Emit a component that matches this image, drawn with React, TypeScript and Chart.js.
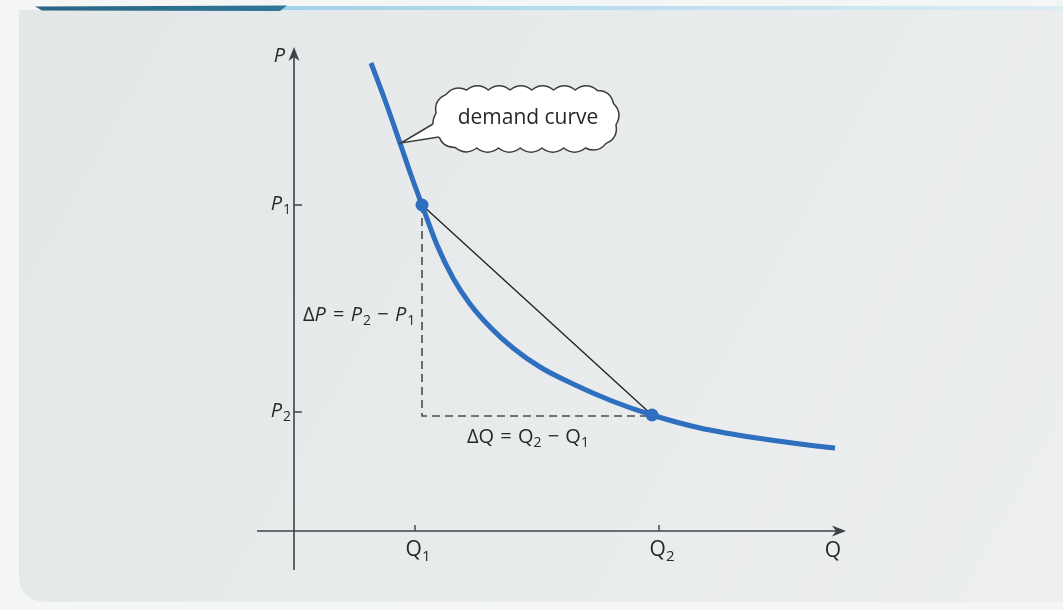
import React, { useEffect, useRef } from "react";
import { Chart, registerables } from "chart.js";

Chart.register(...registerables);

// ---- data (chart units) ----
const CURVE_Q = [1.54, 1.84, 2.12, 2.34, 2.56, 2.86, 3.18, 3.52, 3.92, 4.38, 4.92, 5.58, 6.36, 7.16, 8.12, 9.12, 10.12, 10.82];
const CURVE_P = [9.36, 8.56, 7.76, 7.12, 6.52, 5.72, 5.06, 4.54, 4.08, 3.66, 3.28, 2.94, 2.6, 2.32, 2.06, 1.88, 1.74, 1.66];
const POINT_Q = [2.56, 7.16];
const POINT_P = [6.52, 2.32];
const GUIDE_Q = [2.56, 2.56, 7.16];
const GUIDE_P = [6.52, 2.3, 2.3];
const Q_TICKS = [2.42, 7.3];
const Q_TICK_LABELS = ["Q_1", "Q_2"];
const P_TICKS = [6.52, 2.38];
const P_TICK_LABELS = ["P_1", "P_2"];
const X_AXIS_RANGE = [-0.74, 11.04];
const Y_AXIS_RANGE = [-0.78, 9.68];
const X_AXIS_LABEL = "Q";
const Y_AXIS_LABEL = "P";
const DELTA_P_LABEL = "ΔP = P_2 − P_1";
const DELTA_Q_LABEL = "ΔQ = Q_2 − Q_1";
const CALLOUT_TEXT = "demand curve";

const BLUE = "#2f6fbf";
const INK = "#262929";
const AXIS = "#3b4545";
const FONT = "'Open Sans', 'DejaVu Sans', sans-serif";

function drawRich(ctx: CanvasRenderingContext2D, s: string, x: number, y: number, align: string, size: number) {
  const segs: { t: string; sub: boolean }[] = [];
  for (let i = 0; i < s.length; i++) {
    if (s[i] === "_") {
      segs.push({ t: s[i + 1], sub: true });
      i++;
    } else segs.push({ t: s[i], sub: false });
  }
  const fontFor = (seg: { t: string; sub: boolean }) => {
    const it = seg.t === "P" ? "italic " : "";
    const sz = seg.sub ? Math.round(size * 0.7) : size;
    return `${it}${sz}px ${FONT}`;
  };
  let total = 0;
  const widths = segs.map((seg) => {
    ctx.font = fontFor(seg);
    const w = ctx.measureText(seg.t).width + (seg.t === "P" ? 1 : 0) + (seg.t === " " ? 1 : 0);
    total += w;
    return w;
  });
  let cx = align === "center" ? x - total / 2 : align === "right" ? x - total : x;
  ctx.textBaseline = "middle";
  ctx.textAlign = "left";
  segs.forEach((seg, i) => {
    ctx.font = fontFor(seg);
    ctx.fillText(seg.t, cx, seg.sub ? y + size * 0.32 : y);
    cx += widths[i];
  });
}

function drawCloud(ctx: CanvasRenderingContext2D, x0: number, y0: number, x1: number, y1: number, r: number, n: number, bulge: number) {
  const pts: [number, number][] = [];
  const arc = (cx: number, cy: number, a0: number, a1: number) => {
    for (let k = 0; k <= 12; k++) {
      const a = a0 + ((a1 - a0) * k) / 12;
      pts.push([cx + r * Math.cos(a), cy + r * Math.sin(a)]);
    }
  };
  arc(x1 - r, y0 + r, -Math.PI / 2, 0);
  arc(x1 - r, y1 - r, 0, Math.PI / 2);
  arc(x0 + r, y1 - r, Math.PI / 2, Math.PI);
  arc(x0 + r, y0 + r, Math.PI, 1.5 * Math.PI);
  pts.push(pts[0]);
  const cum = [0];
  for (let i = 1; i < pts.length; i++) {
    cum.push(cum[i - 1] + Math.hypot(pts[i][0] - pts[i - 1][0], pts[i][1] - pts[i - 1][1]));
  }
  const L = cum[cum.length - 1];
  const at = (d: number): [number, number] => {
    let i = 1;
    while (i < cum.length - 1 && cum[i] < d) i++;
    const t = (d - cum[i - 1]) / (cum[i] - cum[i - 1] || 1);
    return [pts[i - 1][0] + (pts[i][0] - pts[i - 1][0]) * t, pts[i - 1][1] + (pts[i][1] - pts[i - 1][1]) * t];
  };
  const q: [number, number][] = [];
  for (let k = 0; k <= n; k++) q.push(at((L * k) / n + 5));
  ctx.beginPath();
  ctx.moveTo(q[0][0], q[0][1]);
  for (let k = 1; k <= n; k++) {
    const A = q[k - 1];
    const B = q[k];
    const dx = B[0] - A[0];
    const dy = B[1] - A[1];
    const len = Math.hypot(dx, dy) || 1;
    const nx = dy / len;
    const ny = -dx / len;
    const mx = (A[0] + B[0]) / 2 + nx * bulge * 2;
    const my = (A[1] + B[1]) / 2 + ny * bulge * 2;
    ctx.quadraticCurveTo(mx, my, B[0], B[1]);
  }
  ctx.closePath();
}

const econPlugin = {
  id: "econ",
  beforeDraw(chart: any) {
    const { ctx, width, height } = chart;
    ctx.save();
    ctx.fillStyle = "#f4f5f5";
    ctx.fillRect(0, 0, width, height);
    const g = ctx.createLinearGradient(0, 10, width, 600);
    g.addColorStop(0, "#e4e7e8");
    g.addColorStop(1, "#eceeef");
    ctx.fillStyle = g;
    const rr = 28;
    ctx.beginPath();
    ctx.moveTo(19, 10);
    ctx.lineTo(width, 10);
    ctx.lineTo(width, 602);
    ctx.lineTo(19 + rr, 602);
    ctx.quadraticCurveTo(19, 602, 19, 602 - rr);
    ctx.closePath();
    ctx.fill();
    const gl = ctx.createLinearGradient(280, 0, width, 0);
    gl.addColorStop(0, "#9fd2ea");
    gl.addColorStop(1, "#dcedf4");
    ctx.fillStyle = gl;
    ctx.fillRect(278, 6, width - 278, 4);
    const gd = ctx.createLinearGradient(35, 0, 285, 0);
    gd.addColorStop(0, "#2a6584");
    gd.addColorStop(1, "#2f7797");
    ctx.fillStyle = gd;
    ctx.beginPath();
    ctx.moveTo(35, 6.5);
    ctx.lineTo(287, 5.5);
    ctx.lineTo(280, 11);
    ctx.lineTo(42, 10.5);
    ctx.closePath();
    ctx.fill();
    ctx.restore();
  },
  beforeDatasetsDraw(chart: any) {
    const { ctx } = chart;
    const X = (v: number) => chart.scales.x.getPixelForValue(v);
    const Y = (v: number) => chart.scales.y.getPixelForValue(v);
    const ox = X(0);
    const oy = Y(0);
    ctx.save();
    ctx.strokeStyle = AXIS;
    ctx.fillStyle = AXIS;
    ctx.lineWidth = 1.6;
    ctx.beginPath();
    ctx.moveTo(X(X_AXIS_RANGE[0]), oy);
    ctx.lineTo(X(X_AXIS_RANGE[1]) - 8, oy);
    ctx.moveTo(ox, Y(Y_AXIS_RANGE[0]));
    ctx.lineTo(ox, Y(Y_AXIS_RANGE[1]) + 8);
    ctx.stroke();
    const tx = X(X_AXIS_RANGE[1]);
    ctx.beginPath();
    ctx.moveTo(tx, oy);
    ctx.lineTo(tx - 14, oy - 5.5);
    ctx.lineTo(tx - 10, oy);
    ctx.lineTo(tx - 14, oy + 5.5);
    ctx.closePath();
    ctx.fill();
    const ty = Y(Y_AXIS_RANGE[1]);
    ctx.beginPath();
    ctx.moveTo(ox, ty);
    ctx.lineTo(ox - 5.5, ty + 14);
    ctx.lineTo(ox, ty + 10);
    ctx.lineTo(ox + 5.5, ty + 14);
    ctx.closePath();
    ctx.fill();
    ctx.lineWidth = 1.4;
    ctx.beginPath();
    Q_TICKS.forEach((q) => {
      ctx.moveTo(X(q), oy);
      ctx.lineTo(X(q), oy - 6);
    });
    P_TICKS.forEach((p) => {
      ctx.moveTo(ox, Y(p));
      ctx.lineTo(ox + 8, Y(p));
    });
    ctx.stroke();
    ctx.fillStyle = INK;
    Q_TICKS.forEach((q, i) => drawRich(ctx, Q_TICK_LABELS[i], X(q) + 3, oy + 19, "center", 21));
    P_TICKS.forEach((p, i) => drawRich(ctx, P_TICK_LABELS[i], ox - 3, Y(p) - 1, "right", 20));
    drawRich(ctx, X_AXIS_LABEL, tx - 13, oy + 20, "center", 21);
    drawRich(ctx, Y_AXIS_LABEL, ox - 14, ty + 9, "center", 20);
    drawRich(ctx, DELTA_P_LABEL, 303, 315, "left", 20);
    drawRich(ctx, DELTA_Q_LABEL, 467, 437, "left", 20);
    ctx.restore();
  },
  afterDatasetsDraw(chart: any) {
    const { ctx } = chart;
    ctx.save();
    ctx.lineWidth = 1.5;
    ctx.strokeStyle = "#3a3d3d";
    ctx.fillStyle = "#ffffff";
    drawCloud(ctx, 436, 90, 616, 148, 24, 20, 4.2);
    ctx.fill();
    ctx.stroke();
    const tip: [number, number] = [401, 143];
    ctx.beginPath();
    ctx.moveTo(tip[0], tip[1]);
    ctx.lineTo(433, 124);
    ctx.lineTo(447, 120);
    ctx.lineTo(449, 138);
    ctx.lineTo(439, 137);
    ctx.closePath();
    ctx.fill();
    ctx.beginPath();
    ctx.moveTo(433, 124);
    ctx.lineTo(tip[0], tip[1]);
    ctx.lineTo(439, 137);
    ctx.stroke();
    ctx.fillStyle = INK;
    ctx.font = `21px ${FONT}`;
    ctx.textAlign = "center";
    ctx.textBaseline = "middle";
    ctx.fillText(CALLOUT_TEXT, 528, 118);
    ctx.restore();
  },
};

export default function App() {
  const ref = useRef<HTMLCanvasElement | null>(null);
  useEffect(() => {
    if (!ref.current) return;
    const pts = (qs: number[], ps: number[]) => qs.map((q, i) => ({ x: q, y: ps[i] }));
    const chart = new Chart(ref.current, {
      type: "line",
      data: {
        datasets: [
          {
            label: "points",
            data: pts(POINT_Q, POINT_P),
            showLine: false,
            pointRadius: 6.5,
            pointBackgroundColor: BLUE,
            pointBorderWidth: 0,
            order: 0,
          },
          {
            label: "demand curve",
            data: pts(CURVE_Q, CURVE_P),
            borderColor: BLUE,
            borderWidth: 5,
            cubicInterpolationMode: "monotone",
            pointRadius: 0,
            fill: false,
            order: 1,
          },
          {
            label: "chord",
            data: pts(POINT_Q, POINT_P),
            borderColor: "#1e1e1e",
            borderWidth: 1.3,
            pointRadius: 0,
            order: 2,
          },
          {
            label: "guides",
            data: pts(GUIDE_Q, GUIDE_P),
            borderColor: "#4a4d4d",
            borderWidth: 1.6,
            borderDash: [8, 5],
            pointRadius: 0,
            order: 3,
          },
        ],
      },
      options: {
        responsive: false,
        animation: false,
        devicePixelRatio: 1,
        layout: { padding: 0, autoPadding: false },
        plugins: { legend: { display: false }, tooltip: { enabled: false } },
        events: [],
        scales: {
          x: { type: "linear", min: -5.88, max: 15.38, display: false },
          y: { type: "linear", min: -1.58, max: 10.62, display: false },
        },
      },
      plugins: [econPlugin],
    } as any);
    return () => chart.destroy();
  }, []);
  return (
    <div style={{ position: "fixed", left: 0, top: 0, width: 1063, height: 610 }}>
      <canvas ref={ref} width={1063} height={610} style={{ display: "block" }} />
    </div>
  );
}
